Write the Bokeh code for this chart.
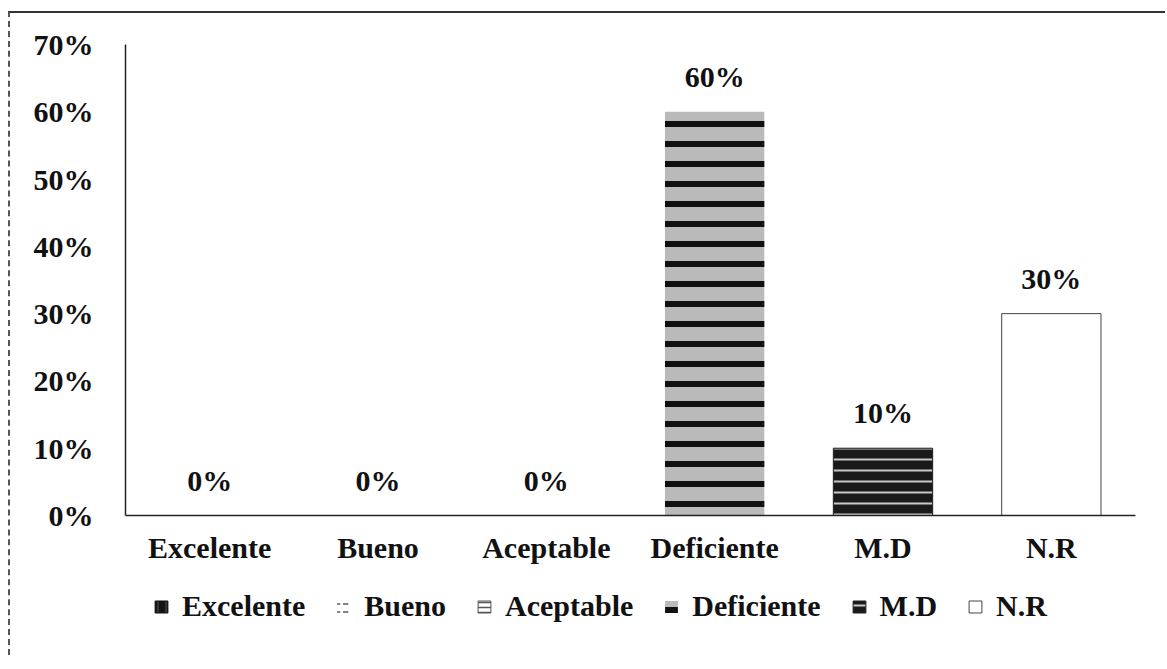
from bokeh.plotting import figure
from bokeh.layouts import column
from bokeh.models import ColumnDataSource, LabelSet, Legend, LegendItem, FactorRange, FixedTicker, CustomJSTickFormatter
from bokeh.embed import file_html
from bokeh.resources import INLINE

categories = ["Excelente", "Bueno", "Aceptable", "Deficiente", "M.D", "N.R"]
values = [0, 0, 0, 60, 10, 30]
value_labels = ["0%", "0%", "0%", "60%", "10%", "30%"]
y_ticks = [0, 10, 20, 30, 40, 50, 60, 70]

fills = ["#151515", "#ffffff", "#ffffff", "#bababa", "#1a1a1a", "#ffffff"]
hatches = ["vertical_line", "horizontal_dash", "horizontal_line", "horizontal_line", "horizontal_line", "blank"]
hatch_colors = ["#555555", "#555555", "#555555", "#111111", "#c8c8c8", "#ffffff"]
hatch_scales = [8, 8, 5, 20, 11, 8]
hatch_weights = [1, 1.5, 1.5, 6, 2, 1]
line_colors = ["#111111", None, "#555555", None, "#222222", "#444444"]

src = ColumnDataSource(dict(cat=categories, val=values, lab=value_labels,
                            fill=fills, hatch=hatches, hcol=hatch_colors,
                            hscale=hatch_scales, hweight=hatch_weights, lcol=line_colors))

FONT = "Liberation Serif"
FS = "30px"

p = figure(x_range=FactorRange(*categories, range_padding=0), y_range=(0, 70),
           width=1155, height=562, output_backend="svg", toolbar_location=None,
           min_border_left=115, min_border_right=30, min_border_top=31, min_border_bottom=60)
p.outline_line_color = None
p.xgrid.grid_line_color = None
p.ygrid.grid_line_color = None
p.background_fill_color = "white"
p.border_fill_color = "white"

bar_kw = dict(x="cat", top="val", width=0.59, source=src, fill_color="fill",
              hatch_pattern="hatch", hatch_color="hcol", hatch_scale="hscale",
              hatch_weight="hweight", line_color="lcol", line_width=1)
p.vbar(**bar_kw)

labels = LabelSet(x="cat", y="val", text="lab", source=src, text_align="center",
                  text_baseline="alphabetic", y_offset=25, text_font=FONT,
                  text_font_size=FS, text_font_style="bold", text_color="#111111")
p.add_layout(labels)

p.yaxis.ticker = FixedTicker(ticks=y_ticks)
p.yaxis.formatter = CustomJSTickFormatter(code="return tick + '%';")
for ax in (p.xaxis, p.yaxis):
    ax.major_label_text_font = FONT
    ax.major_label_text_font_size = FS
    ax.major_label_text_font_style = "bold"
    ax.major_label_text_color = "#111111"
    ax.major_tick_line_color = None
    ax.minor_tick_line_color = None
    ax.axis_line_color = "#222222"
    ax.axis_line_width = 1.5
p.yaxis.major_label_standoff = 26
p.xaxis.major_label_standoff = 9

# legend strip below the chart
p2 = figure(x_range=FactorRange(*categories, range_padding=0), y_range=(100, 101),
            width=1155, height=80, output_backend="svg", toolbar_location=None,
            x_axis_location=None, y_axis_location=None, min_border=0)
p2.outline_line_color = None
p2.xgrid.grid_line_color = None
p2.ygrid.grid_line_color = None
r2 = p2.vbar(**bar_kw)

items = [LegendItem(label=c, renderers=[r2], index=i) for i, c in enumerate(categories)]
legend = Legend(items=items, orientation="horizontal", location=(28, 32),
                label_text_font=FONT, label_text_font_size=FS,
                label_text_font_style="bold", label_text_color="#111111",
                glyph_width=16, glyph_height=15, label_standoff=13, spacing=30,
                border_line_color=None, background_fill_alpha=0, padding=4, margin=0)
p2.add_layout(legend, "center")

layout = column(p, p2, spacing=0)
layout.styles = {"border-top": "2px solid #333333", "border-left": "2px dashed #555555",
                 "margin-left": "8px", "margin-top": "11px"}

open("out.html", "w").write(file_html(layout, INLINE))
